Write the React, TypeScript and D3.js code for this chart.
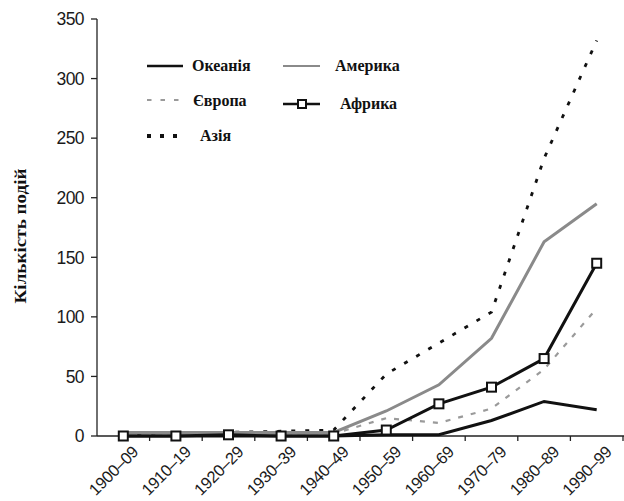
import React from "react";
import * as d3 from "d3";

const categories = ["1900–09", "1910–19", "1920–29", "1930–39", "1940–49", "1950–59", "1960–69", "1970–79", "1980–89", "1990–99"];
const oceania = [0, 0, 0, 0, 0, 1, 1, 13, 29, 22];
const europe = [2, 2, 2, 2, 2, 15, 11, 23, 56, 107];
const asia = [2, 3, 3, 4, 5, 52, 78, 104, 233, 332];
const america = [3, 3, 3, 3, 3, 21, 43, 82, 163, 195];
const africa = [0, 0, 1, 0, 0, 5, 27, 41, 65, 145];
const yTicks = [0, 50, 100, 150, 200, 250, 300, 350];
const yTitle = "Кількість подій";

const W = 624;
const H = 501;

export default function App() {
  const x = d3.scaleBand<string>().domain(categories).range([97, 623]).padding(0);
  const y = d3.scaleLinear().domain([0, 350]).range([436, 19]);
  const cx = (c: string) => (x(c) as number) + x.bandwidth() / 2;
  const line = d3
    .line<number>()
    .x((_, i) => cx(categories[i]))
    .y((d) => y(d));

  const serif = "'Liberation Serif', 'Times New Roman', serif";
  const sans = "'Liberation Sans', Arial, sans-serif";

  const series = [
    { name: "Океанія", data: oceania, stroke: "#111", width: 3, dash: undefined as string | undefined },
    { name: "Європа", data: europe, stroke: "#9a9a9a", width: 2.2, dash: "5,8" },
    { name: "Азія", data: asia, stroke: "#111", width: 2.8, dash: "4,10" },
    { name: "Америка", data: america, stroke: "#8a8a8a", width: 3, dash: undefined },
    { name: "Африка", data: africa, stroke: "#111", width: 3, dash: undefined },
  ];

  const boundaries = categories.map((c) => (x(c) as number) + x.bandwidth());

  return (
    <svg width={W} height={H} style={{ position: "absolute", left: 0, top: 0, background: "#fff" }}>
      <rect x={0} y={0} width={W} height={H} fill="#fff" />
      {/* Y axis */}
      <line x1={97} x2={97} y1={y(350)} y2={y(0)} stroke="#222" strokeWidth={1.3} />
      {yTicks.map((t) => (
        <g key={t}>
          <line x1={91} x2={97} y1={y(t)} y2={y(t)} stroke="#222" strokeWidth={1.3} />
          <text x={84} y={y(t)} dy="0.36em" textAnchor="end" fontFamily={sans} fontSize={17.5} letterSpacing={-0.6} fill="#1a1a1a">
            {t}
          </text>
        </g>
      ))}
      {/* X axis */}
      <line x1={97} x2={624} y1={y(0)} y2={y(0)} stroke="#222" strokeWidth={1.3} />
      {boundaries.map((b, i) => (
        <line key={i} x1={b} x2={b} y1={y(0)} y2={y(0) + 5} stroke="#222" strokeWidth={1.3} />
      ))}
      {categories.map((c) => (
        <text
          key={c}
          transform={`translate(${cx(c) + 16},${453}) rotate(-45)`}
          textAnchor="end"
          fontFamily={sans}
          fontSize={16.5}
          letterSpacing={-0.4}
          fill="#1a1a1a"
        >
          {c}
        </text>
      ))}
      {/* Y title */}
      <text
        transform={`translate(26,236) rotate(-90)`}
        textAnchor="middle"
        fontFamily={serif}
        fontWeight="bold"
        fontSize={17}
        textLength={135}
        lengthAdjust="spacingAndGlyphs"
        fill="#111"
      >
        {yTitle}
      </text>
      {/* Lines */}
      {series.map((s) => (
        <path
          key={s.name}
          d={line(s.data) as string}
          fill="none"
          stroke={s.stroke}
          strokeWidth={s.width}
          strokeDasharray={s.dash}
          strokeLinejoin="miter"
        />
      ))}
      {africa.map((v, i) => (
        <rect
          key={i}
          x={cx(categories[i]) - 4.5}
          y={y(v) - 4.5}
          width={9}
          height={9}
          fill="#fff"
          stroke="#111"
          strokeWidth={2}
        />
      ))}
      {/* Legend */}
      <g fontFamily={serif} fontWeight="bold" fontSize={16} fill="#111">
        <line x1={147} x2={183} y1={66} y2={66} stroke="#111" strokeWidth={2.5} />
        <text x={192} y={71}>{series[0].name}</text>
        <line x1={147} x2={183} y1={100} y2={100} stroke="#9a9a9a" strokeWidth={2} strokeDasharray="4.5,9" />
        <text x={193} y={106}>{series[1].name}</text>
        <line x1={147} x2={183} y1={136} y2={136} stroke="#111" strokeWidth={4} strokeDasharray="4,9" />
        <text x={200} y={141}>{series[2].name}</text>
        <line x1={283} x2={320} y1={66} y2={66} stroke="#8a8a8a" strokeWidth={2} />
        <text x={335} y={71}>{series[3].name}</text>
        <line x1={283} x2={320} y1={104} y2={104} stroke="#111" strokeWidth={2.5} />
        <rect x={298} y={100} width={8} height={8} fill="#fff" stroke="#111" strokeWidth={2} />
        <text x={340} y={109}>{series[4].name}</text>
      </g>
    </svg>
  );
}
